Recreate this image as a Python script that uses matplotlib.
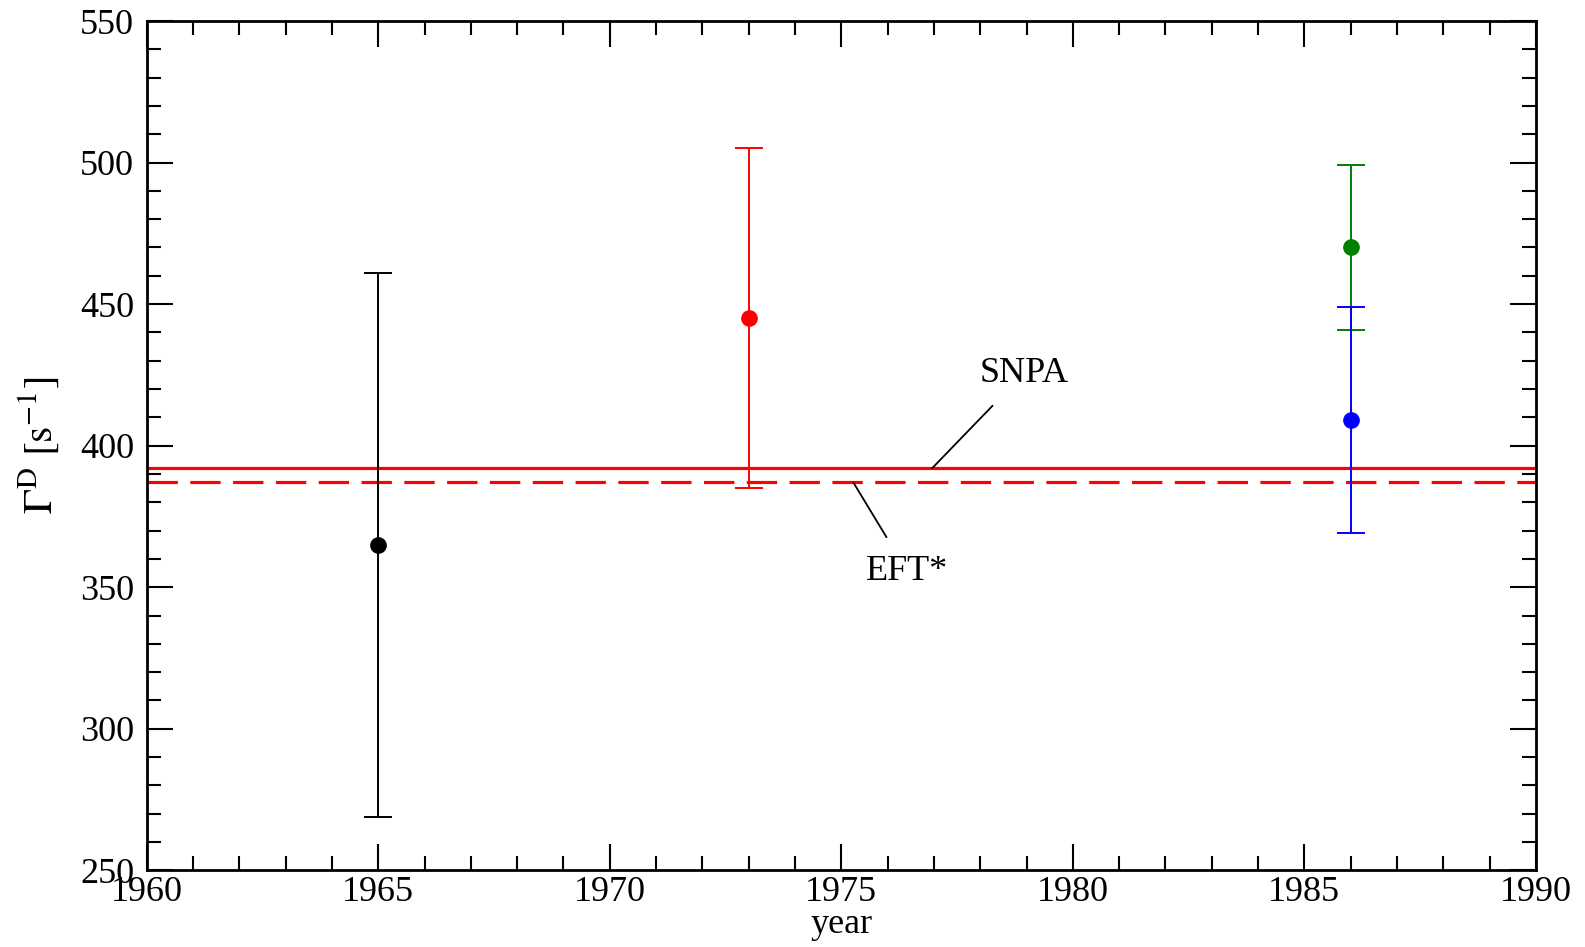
import matplotlib
matplotlib.use("Agg")
import matplotlib.pyplot as plt
from matplotlib.ticker import MultipleLocator

plt.rcParams['font.family'] = ['Liberation Serif', 'DejaVu Serif']
plt.rcParams['mathtext.fontset'] = 'stix'

# data
years = [1965, 1973, 1986, 1986]
values = [365, 445, 470, 409]
err_low = [96, 60, 29, 40]
err_high = [96, 60, 29, 40]
colors = ['black', 'red', 'green', 'blue']
snpa_value = 392
eft_value = 387

fig = plt.figure(figsize=(15.85, 9.47), dpi=100)
ax = fig.add_axes([0.0926, 0.0810, 0.8764, 0.8968])

for x, y, lo, hi, c in zip(years, values, err_low, err_high, colors):
    ax.errorbar([x], [y], yerr=[[lo], [hi]], fmt='o', color=c, ecolor=c,
                elinewidth=1.4, capsize=10, capthick=1.4, markersize=11, zorder=3)

ax.axhline(snpa_value, color='red', lw=2.3, zorder=2)
ax.axhline(eft_value, color='red', lw=2.3, linestyle=(0, (9.5, 3.9)), zorder=2)

ax.annotate('SNPA', xy=(1976.96, snpa_value), xytext=(1978.94, 425.5),
            fontsize=26, ha='center', va='center',
            arrowprops=dict(arrowstyle='-', color='black', lw=1.3, shrinkA=13, shrinkB=0))
ax.annotate('EFT*', xy=(1975.26, eft_value), xytext=(1976.43, 355.4),
            fontsize=26, ha='center', va='center',
            arrowprops=dict(arrowstyle='-', color='black', lw=1.3, shrinkA=13, shrinkB=0))

ax.set_xlim(1960, 1990)
ax.set_ylim(250, 550)
ax.xaxis.set_major_locator(MultipleLocator(5))
ax.xaxis.set_minor_locator(MultipleLocator(1))
ax.yaxis.set_major_locator(MultipleLocator(50))
ax.yaxis.set_minor_locator(MultipleLocator(10))

ax.tick_params(which='both', direction='in', top=True, right=True, width=1.5, labelsize=26)
ax.tick_params(which='major', length=19)
ax.tick_params(which='minor', length=10)
ax.tick_params(axis='x', which='major', pad=4)
ax.tick_params(axis='y', which='major', pad=9)
for s in ax.spines.values():
    s.set_linewidth(2.0)

ax.set_xlabel('year', fontsize=26)
ax.xaxis.label.set_va('baseline')
ax.xaxis.set_label_coords(0.5, -0.0738)
ax.set_ylabel(r'$\Gamma^{\mathrm{D}}\ [\mathrm{s}^{-1}]$', fontsize=30)
ax.yaxis.set_label_coords(-0.061, 0.5)

fig.savefig('out.png', dpi=100)
